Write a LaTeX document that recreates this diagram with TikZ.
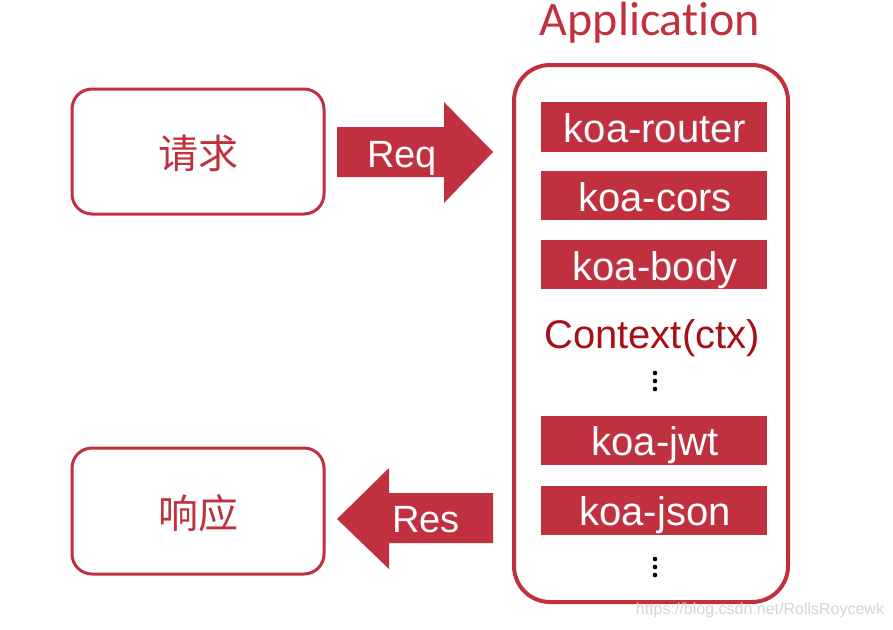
\documentclass[tikz,border=0pt]{standalone}
\usepackage{fontspec}
\setmainfont{Liberation Sans}
\newfontfamily\cjkfont{Noto Sans CJK SC}
\newfontfamily\appfont[Ligatures=NoCommon]{Carlito}
\definecolor{koared}{HTML}{C0303E}
\definecolor{ctxred}{HTML}{A80F18}
\definecolor{wmgray}{HTML}{D6D6D6}
\tikzset{
  endbox/.style={draw=koared, line width=3pt, rounded corners=20pt},
  endtext/.style={text=koared, font=\cjkfont\fontsize{40}{40}\selectfont, inner sep=0pt},
  modbox/.style={fill=koared, draw=none},
  modtext/.style={text=white, font=\fontsize{40}{40}\selectfont, inner sep=0pt, anchor=base},
  arrowshape/.style={fill=koared, draw=none},
  arrowtext/.style={text=white, font=\fontsize{38}{38}\selectfont, inner sep=0pt, anchor=base},
  vdot/.style={fill=black, draw=none},
}
\begin{document}
\begin{tikzpicture}[x=1pt,y=-1pt]
\useasboundingbox (0,0) rectangle (893,629);
\fill[white] (0,0) rectangle (893,629);
% end boxes
\draw[endbox] (72,89) rectangle (324,214);
\node[endtext] (req) at (198,153) {请求};
\draw[endbox] (72,448) rectangle (324,574);
\node[endtext] (res) at (198,513) {响应};
% Req arrow
\fill[arrowshape] (337,127) -- (444,127) -- (444,102) -- (493,152) -- (444,203) -- (444,177) -- (337,177) -- cycle;
\node[arrowtext] (reqlabel) at (402,167) {Req};
% Res arrow
\fill[arrowshape] (493,493) -- (389,493) -- (389,468) -- (337,519) -- (389,569) -- (389,543) -- (493,543) -- cycle;
\node[arrowtext] (reslabel) at (426,532) {Res};
% application
\node[text=koared, font=\appfont\fontsize{48}{48}\selectfont, inner sep=0pt, anchor=base] (apptitle) at (650,35) {Application};
\draw[draw=koared, line width=4pt, rounded corners=36pt] (514,65) rectangle (788,602);
% modules
\fill[modbox] (541,102) rectangle (767,152);
\node[modtext] (router) at (655,142) {koa-router};
\fill[modbox] (541,171) rectangle (767,220);
\node[modtext] (cors) at (655,211) {koa-cors};
\fill[modbox] (541,240) rectangle (767,289);
\node[modtext] (body) at (655,280) {koa-body};
\node[text=ctxred, font=\fontsize{40}{40}\selectfont, inner sep=0pt, anchor=base] (ctx) at (652,348) {Context(ctx)};
\fill[vdot] (655,373) circle (2.3) (655,381) circle (2.3) (655,389) circle (2.3);
\fill[modbox] (541,416) rectangle (767,465);
\node[modtext] (jwt) at (655,455) {koa-jwt};
\fill[modbox] (541,486) rectangle (767,535);
\node[modtext] (json) at (655,525) {koa-json};
\fill[vdot] (655,559) circle (2.3) (655,567) circle (2.3) (655,575) circle (2.3);
% watermark
\node[text=wmgray, font=\fontsize{16}{16}\selectfont, inner sep=0pt, anchor=base] (wm) at (760,614) {https://blog.csdn.net/RollsRoycewk};
\end{tikzpicture}
\end{document}
